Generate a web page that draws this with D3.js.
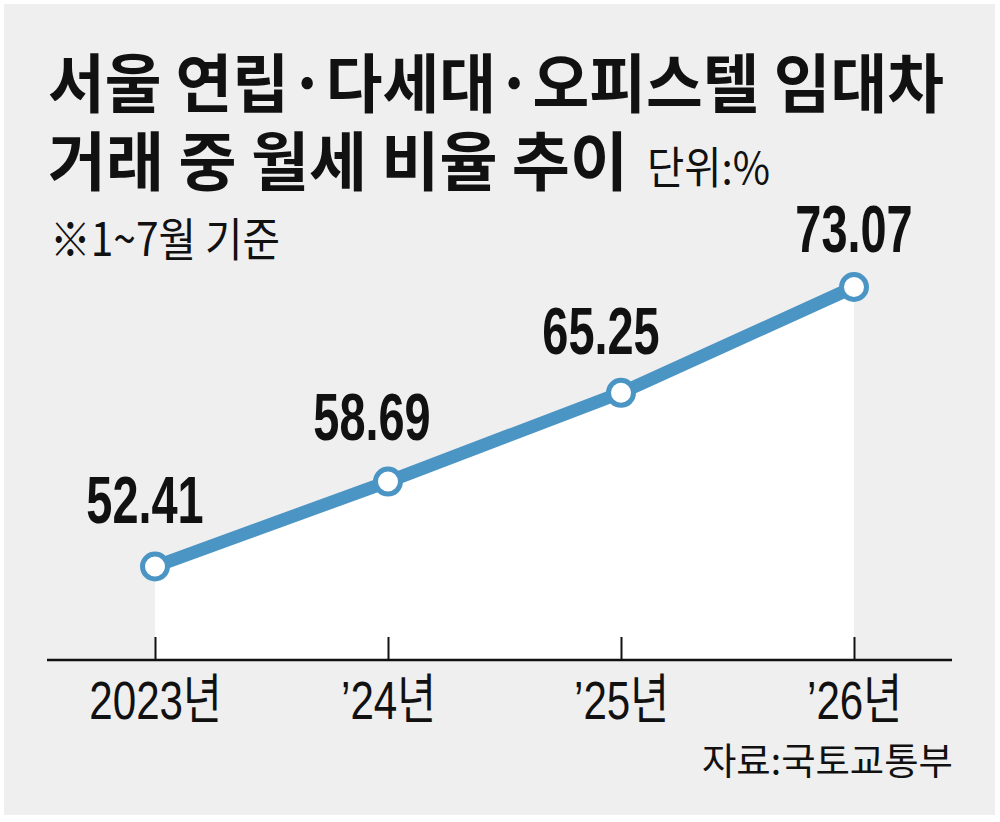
<!DOCTYPE html>
<html>
<head>
<meta charset="utf-8">
<script src="https://cdn.jsdelivr.net/npm/d3@7"></script>
<style>
  body { margin: 0; background: #fff; }
  svg { display: block; }
</style>
</head>
<body>
<svg width="1000" height="822"></svg>
<script>
// data (1~7월 기준, 단위 %)
const years = ['2023년', '’24년', '’25년', '’26년'];
const rates = [52.41, 58.69, 65.25, 73.07];

// label nudges so numbers sit where the original put them
const labelDx = [-10, -16, -20, 0];
const labelDy = [-44, -42, -39, -35];

const blue = '#4b95c5';
const numFont = '"Liberation Sans", Arial, sans-serif';
const krFont = '"Noto Sans CJK KR", "Noto Sans", sans-serif';

const svg = d3.select('svg');

// background panel
svg.append('rect')
    .attr('x', 4).attr('y', 4)
    .attr('width', 991).attr('height', 811)
    .attr('fill', '#efefef');

const xScale = d3.scalePoint()
    .domain(years)
    .range([155, 854]);

const yScale = d3.scaleLinear()
    .domain([45.5, 73.07])
    .range([660, 287]);

const points = years.map((yr, i) => ({ year: yr, value: rates[i], i: i }));

// white area under the line
const area = d3.area()
    .x(d => xScale(d.year))
    .y0(yScale(45.5))
    .y1(d => yScale(d.value));

svg.append('path')
    .datum(points)
    .attr('d', area)
    .attr('fill', '#fff');

// x axis, ticks point up
const xAxis = d3.axisBottom(xScale)
    .tickSizeInner(-23)
    .tickSizeOuter(0)
    .tickPadding(21);

const gx = svg.append('g')
    .attr('transform', `translate(0,${yScale(45.5)})`)
    .call(xAxis);

gx.select('.domain').remove();
gx.selectAll('.tick line')
    .attr('stroke', '#111')
    .attr('stroke-width', 2);
gx.selectAll('.tick text')
    .attr('fill', '#111')
    .style('font-family', numFont + ', ' + krFont)
    .style('font-size', '54px')
    .each(function () {
        const w = this.getComputedTextLength();
        d3.select(this).attr('textLength', w * 0.78).attr('lengthAdjust', 'spacingAndGlyphs');
    });

svg.append('line')
    .attr('x1', 47).attr('x2', 952)
    .attr('y1', yScale(45.5)).attr('y2', yScale(45.5))
    .attr('stroke', '#111')
    .attr('stroke-width', 2.5);

// the line
const line = d3.line()
    .x(d => xScale(d.year))
    .y(d => yScale(d.value));

svg.append('path')
    .datum(points)
    .attr('d', line)
    .attr('fill', 'none')
    .attr('stroke', blue)
    .attr('stroke-width', 13)
    .attr('stroke-linejoin', 'round');

svg.selectAll('.dot')
    .data(points)
    .enter()
    .append('circle')
    .classed('dot', true)
    .attr('cx', d => xScale(d.year))
    .attr('cy', d => yScale(d.value))
    .attr('r', 12.5)
    .attr('fill', '#fff')
    .attr('stroke', blue)
    .attr('stroke-width', 5);

// value labels
svg.selectAll('.val')
    .data(points)
    .enter()
    .append('text')
    .classed('val', true)
    .attr('x', d => xScale(d.year) + labelDx[d.i])
    .attr('y', d => yScale(d.value) + labelDy[d.i])
    .attr('text-anchor', 'middle')
    .attr('fill', '#111')
    .style('font-family', numFont)
    .style('font-weight', 'bold')
    .style('font-size', '67px')
    .text(d => d.value.toFixed(2))
    .each(function () {
        const w = this.getComputedTextLength();
        d3.select(this).attr('textLength', w * 0.7).attr('lengthAdjust', 'spacingAndGlyphs');
    });

// titles
function label(txt, x, y, size, weight, width, anchor) {
    const t = svg.append('text')
        .attr('x', x).attr('y', y)
        .attr('fill', '#111')
        .attr('text-anchor', anchor || 'start')
        .style('font-family', krFont)
        .style('font-size', size + 'px')
        .style('font-weight', weight)
        .text(txt);
    if (width) t.attr('textLength', width).attr('lengthAdjust', 'spacingAndGlyphs');
    return t;
}

// two-line title in one text element
const title = svg.append('text')
    .attr('fill', '#111')
    .style('font-family', krFont)
    .style('font-size', '64px')
    .style('font-weight', 'bold');
title.append('tspan')
    .attr('x', 48).attr('y', 107)
    .attr('textLength', 896).attr('lengthAdjust', 'spacingAndGlyphs')
    .text('서울 연립·다세대·오피스텔 임대차');
title.append('tspan')
    .attr('x', 48).attr('y', 185)
    .attr('textLength', 580).attr('lengthAdjust', 'spacingAndGlyphs')
    .text('거래 중 월세 비율 추이');

label('단위:%', 647, 184, 44, 'normal', 123);
label('※1~7월 기준', 50, 256, 46, 'normal', 230);
label('자료:국토교통부', 953, 775, 37, 'normal', 251, 'end');
</script>
</body>
</html>
